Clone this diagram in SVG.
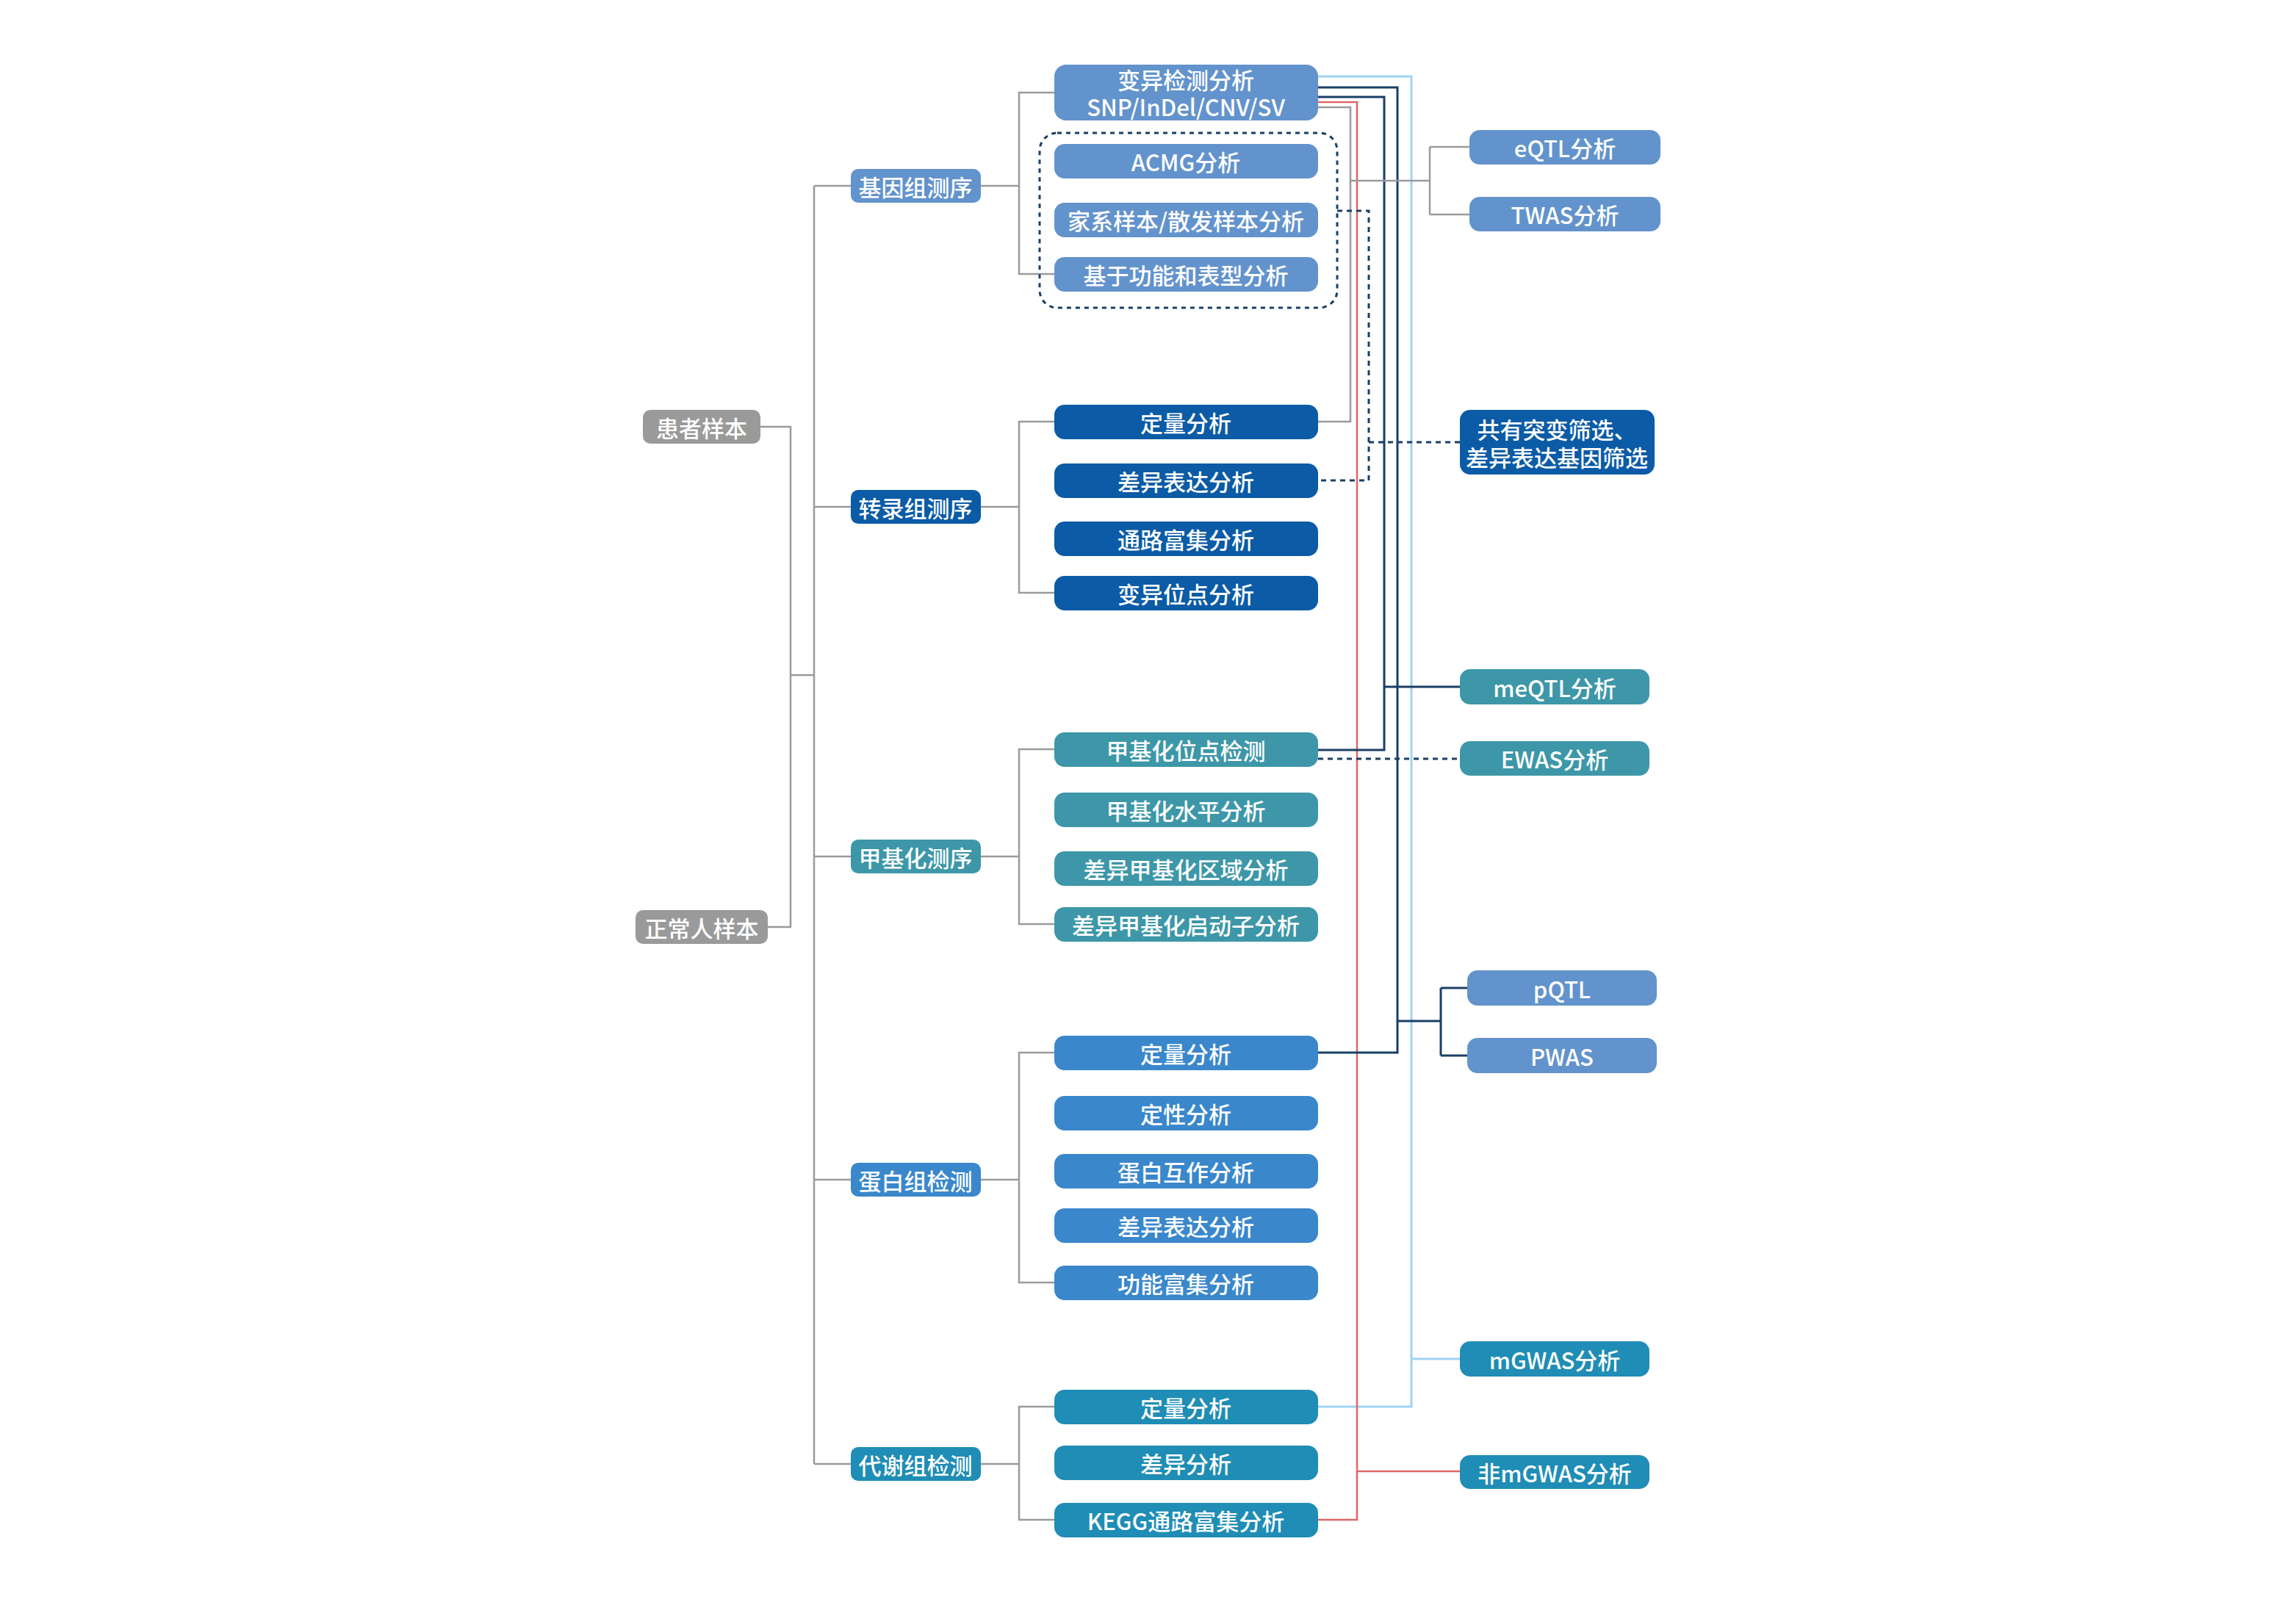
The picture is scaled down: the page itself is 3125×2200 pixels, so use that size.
<svg xmlns="http://www.w3.org/2000/svg" width="3125" height="2200" viewBox="0 0 3125 2200">
<style>
text{font-family:"Noto Sans CJK SC","Noto Sans",sans-serif;font-size:31px;font-weight:500;fill:#fff;text-anchor:middle;dominant-baseline:central}
.gr{fill:#9a9a9a}
.gen{fill:#6393cc}
.tra{fill:#0b5ba6}
.met{fill:#3d97a8}
.pro{fill:#3a87cc}
.mtb{fill:#1f8db5}
.l{fill:none;stroke:#9a9a9a;stroke-width:2.5}
.lb{fill:none;stroke:#9fd3f5;stroke-width:3}
.nv{fill:none;stroke:#1a3f66;stroke-width:3}
.rd{fill:none;stroke:#e06666;stroke-width:2.5}
.dn{fill:none;stroke:#1a3f66;stroke-width:3;stroke-dasharray:7 6}
</style>
<rect width="3125" height="2200" fill="#fff"/>
<g id="connectors">
<path class="l" d="M1035,581H1076V1262H1045M1076,919H1108M1108,253V1993"/>
<path class="l" d="M1108,253H1158M1108,690H1158M1108,1166H1158M1108,1606H1158M1108,1993H1158"/>
<path class="l" d="M1335,253H1387M1335,690H1387M1335,1166H1387M1335,1606H1387M1335,1993H1387"/>
<path class="l" d="M1435,126H1387V373H1435M1435,574H1387V807H1435M1435,1020H1387V1258H1435M1435,1433H1387V1746H1435M1435,1915H1387V2069H1435"/>
<path class="lb" d="M1790,104H1921V1915H1794M1921,1850H1987"/>
<path class="rd" d="M1790,139H1847V2069H1794M1847,2003H1987"/>
<path class="nv" d="M1790,119H1902V1433H1794M1902,1390H1961M1961,1345V1437M1961,1345H1997M1961,1437H1997"/>
<path class="nv" d="M1790,132H1884V1021H1794M1884,935H1987"/>
<path class="l" d="M1790,146H1838V574H1794M1838,246H1946M1946,200V292M1946,200H2000M1946,292H2000"/>
<path class="dn" d="M1820,287H1863V654H1794M1863,602H1987"/>
<path class="dn" d="M1794,1033H1987"/>
<rect x="1415" y="181" width="405" height="238" rx="24" fill="none" stroke="#1a3f66" stroke-width="3" stroke-dasharray="6 6"/>
</g>
<g id="n-patient"><rect class="gr" x="875" y="558" width="160" height="46" rx="10"/><text x="955" y="581">患者样本</text></g>
<g id="n-normal"><rect class="gr" x="865" y="1239" width="180" height="46" rx="10"/><text x="955" y="1262">正常人样本</text></g>
<g id="n-genome"><rect class="gen" x="1158" y="230" width="177" height="46" rx="10"/><text x="1246" y="253">基因组测序</text></g>
<g id="n-trans"><rect class="tra" x="1158" y="667" width="177" height="46" rx="10"/><text x="1246" y="690">转录组测序</text></g>
<g id="n-methyl"><rect class="met" x="1158" y="1143" width="177" height="46" rx="10"/><text x="1246" y="1166">甲基化测序</text></g>
<g id="n-prot"><rect class="pro" x="1158" y="1583" width="177" height="46" rx="10"/><text x="1246" y="1606">蛋白组检测</text></g>
<g id="n-metab"><rect class="mtb" x="1158" y="1970" width="177" height="46" rx="10"/><text x="1246" y="1993">代谢组检测</text></g>
<g id="n-var"><rect class="gen" x="1435" y="88" width="359" height="76" rx="16"/><text x="1614" y="107">变异检测分析</text><text x="1614" y="144">SNP/InDel/CNV/SV</text></g>
<g id="n-acmg"><rect class="gen" x="1435" y="196" width="359" height="47" rx="14"/><text x="1614" y="219">ACMG分析</text></g>
<g id="n-family"><rect class="gen" x="1435" y="276" width="359" height="47" rx="14"/><text x="1614" y="299">家系样本/散发样本分析</text></g>
<g id="n-func"><rect class="gen" x="1435" y="350" width="359" height="47" rx="14"/><text x="1614" y="373">基于功能和表型分析</text></g>
<g id="n-t1"><rect class="tra" x="1435" y="551" width="359" height="47" rx="14"/><text x="1614" y="574">定量分析</text></g>
<g id="n-t2"><rect class="tra" x="1435" y="631" width="359" height="47" rx="14"/><text x="1614" y="654">差异表达分析</text></g>
<g id="n-t3"><rect class="tra" x="1435" y="710" width="359" height="47" rx="14"/><text x="1614" y="733">通路富集分析</text></g>
<g id="n-t4"><rect class="tra" x="1435" y="784" width="359" height="47" rx="14"/><text x="1614" y="807">变异位点分析</text></g>
<g id="n-m1"><rect class="met" x="1435" y="997" width="359" height="47" rx="14"/><text x="1614" y="1020">甲基化位点检测</text></g>
<g id="n-m2"><rect class="met" x="1435" y="1079" width="359" height="47" rx="14"/><text x="1614" y="1102">甲基化水平分析</text></g>
<g id="n-m3"><rect class="met" x="1435" y="1159" width="359" height="47" rx="14"/><text x="1614" y="1182">差异甲基化区域分析</text></g>
<g id="n-m4"><rect class="met" x="1435" y="1235" width="359" height="47" rx="14"/><text x="1614" y="1258">差异甲基化启动子分析</text></g>
<g id="n-p1"><rect class="pro" x="1435" y="1410" width="359" height="47" rx="14"/><text x="1614" y="1433">定量分析</text></g>
<g id="n-p2"><rect class="pro" x="1435" y="1492" width="359" height="47" rx="14"/><text x="1614" y="1515">定性分析</text></g>
<g id="n-p3"><rect class="pro" x="1435" y="1571" width="359" height="47" rx="14"/><text x="1614" y="1594">蛋白互作分析</text></g>
<g id="n-p4"><rect class="pro" x="1435" y="1645" width="359" height="47" rx="14"/><text x="1614" y="1668">差异表达分析</text></g>
<g id="n-p5"><rect class="pro" x="1435" y="1723" width="359" height="47" rx="14"/><text x="1614" y="1746">功能富集分析</text></g>
<g id="n-d1"><rect class="mtb" x="1435" y="1892" width="359" height="47" rx="14"/><text x="1614" y="1915">定量分析</text></g>
<g id="n-d2"><rect class="mtb" x="1435" y="1968" width="359" height="47" rx="14"/><text x="1614" y="1991">差异分析</text></g>
<g id="n-d3"><rect class="mtb" x="1435" y="2046" width="359" height="47" rx="14"/><text x="1614" y="2069">KEGG通路富集分析</text></g>
<g id="n-eqtl"><rect class="gen" x="2000" y="177" width="260" height="47" rx="14"/><text x="2130" y="200">eQTL分析</text></g>
<g id="n-twas"><rect class="gen" x="2000" y="268" width="260" height="47" rx="14"/><text x="2130" y="291">TWAS分析</text></g>
<g id="n-shared"><rect class="tra" x="1987" y="558" width="265" height="88" rx="14"/><text x="2119" y="583">共有突变筛选、</text><text x="2119" y="621">差异表达基因筛选</text></g>
<g id="n-meqtl"><rect class="met" x="1987" y="911" width="258" height="48" rx="14"/><text x="2116" y="935">meQTL分析</text></g>
<g id="n-ewas"><rect class="met" x="1987" y="1009" width="258" height="47" rx="14"/><text x="2116" y="1032">EWAS分析</text></g>
<g id="n-pqtl"><rect class="gen" x="1997" y="1321" width="258" height="48" rx="14"/><text x="2126" y="1345">pQTL</text></g>
<g id="n-pwas"><rect class="gen" x="1997" y="1413" width="258" height="48" rx="14"/><text x="2126" y="1437">PWAS</text></g>
<g id="n-mgwas"><rect class="mtb" x="1987" y="1826" width="258" height="48" rx="14"/><text x="2116" y="1850">mGWAS分析</text></g>
<g id="n-nmgwas"><rect class="mtb" x="1987" y="1981" width="258" height="46" rx="14"/><text x="2116" y="2004">非mGWAS分析</text></g>
</svg>
